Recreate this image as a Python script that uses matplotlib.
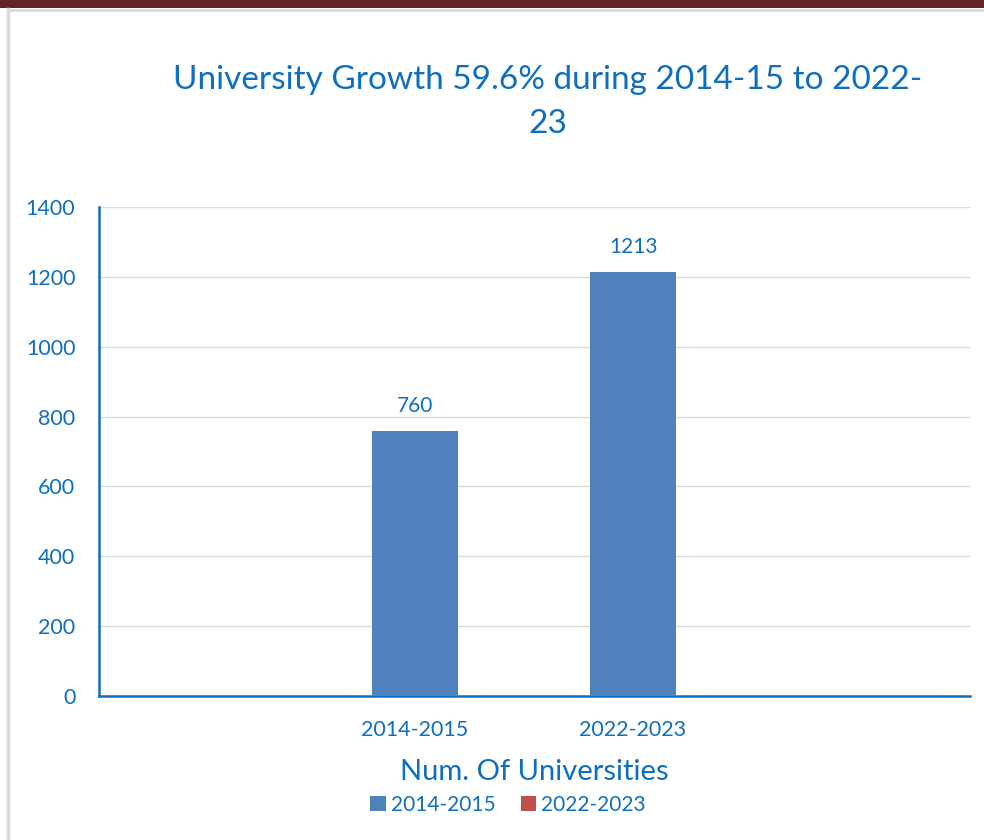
import matplotlib.pyplot as plt
from matplotlib.patches import Rectangle
from matplotlib.lines import Line2D

# data
categories = ["2014-2015", "2022-2023"]
universities = [760, 1213]
legend_labels = ["2014-2015", "2022-2023"]
legend_colors = ["#4F81BD", "#C0504D"]
yticks = [0, 200, 400, 600, 800, 1000, 1200, 1400]

text_blue = "#0E6EC0"
bar_blue = "#4F81BD"

plt.rcParams['font.family'] = ['Lato', 'DejaVu Sans']

W, H = 984, 840
fig = plt.figure(figsize=(W / 100, H / 100), dpi=100)
fig.patch.set_facecolor("white")

# page decoration: dark red band on top, grey frame lines
fig.add_artist(Rectangle((0, 1 - 8 / H), 1, 8 / H, transform=fig.transFigure,
                         facecolor="#632523", edgecolor="none"))
fig.add_artist(Line2D([8 / W, 1], [1 - 9.5 / H, 1 - 9.5 / H], transform=fig.transFigure,
                      color="#D9D9D9", lw=2))
fig.add_artist(Line2D([8 / W, 8 / W], [0, 1 - 9 / H], transform=fig.transFigure,
                      color="#D9D9D9", lw=2.5))

# axes box in pixels: x 99..970, y 207 (1400) .. 696 (0)
ax = fig.add_axes([99 / W, 1 - 696 / H, (970 - 99) / W, (696 - 207) / H])

x = list(range(len(categories)))
bars = ax.bar(x, universities, width=0.394, color=bar_blue, zorder=3)
for b, v in zip(bars, universities):
    ax.annotate(str(v), (b.get_x() + b.get_width() / 2, v), xytext=(0, 18),
                textcoords="offset points", ha="center", va="center",
                fontsize=15, color=text_blue)

ax.set_xlim(-1.45, 2.546)
ax.set_ylim(0, 1400)
ax.set_yticks(yticks)
ax.set_xticks(x)
ax.set_xticklabels(categories)
ax.tick_params(axis="both", length=0, labelsize=15.5, labelcolor=text_blue)
ax.tick_params(axis="y", pad=17)
ax.tick_params(axis="x", pad=17)
ax.grid(axis="y", color="#D9D9D9", lw=1, zorder=0)

for side in ["top", "right"]:
    ax.spines[side].set_visible(False)
ax.spines["left"].set_color("#0E6EC0")
ax.spines["left"].set_linewidth(1.8)
ax.spines["bottom"].set_color("#0E6EC0")
ax.spines["bottom"].set_linewidth(1.8)

ax.set_xlabel("Num. Of Universities", fontsize=21, color=text_blue, labelpad=14)

fig.text(548 / W, 1 - 102 / H, "University Growth 59.6% during 2014-15 to 2022-\n23",
         ha="center", va="center", fontsize=24, color=text_blue, linespacing=1.55)

handles = [Rectangle((0, 0), 1, 1, facecolor=c) for c in legend_colors]
fig.legend(handles, legend_labels, loc="center", bbox_to_anchor=(508 / W, 1 - 805 / H),
           ncol=2, frameon=False, fontsize=15, labelcolor=text_blue,
           handlelength=0.75, handleheight=0.75, handletextpad=0.25, columnspacing=1.2)

fig.savefig("out.png", dpi=100)
